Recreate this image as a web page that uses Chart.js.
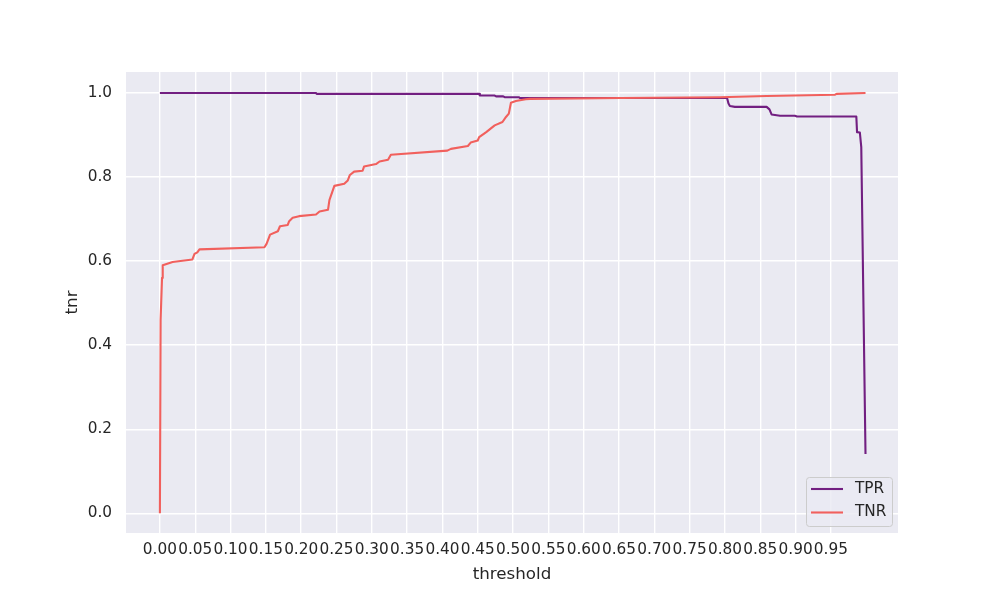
<!DOCTYPE html>
<html>
<head>
<meta charset="utf-8">
<script src="https://cdn.jsdelivr.net/npm/chart.js@4.4.1/dist/chart.umd.min.js"></script>
<style>
  html, body { margin: 0; padding: 0; background: #ffffff; }
  #wrap { width: 1000px; height: 600px; }
</style>
</head>
<body>
<div id="wrap"><canvas id="rateChart" width="1000" height="600"></canvas></div>
<script>
// threshold vs rate
const tprX = [0.000, 0.221, 0.222, 0.452, 0.453, 0.474, 0.476, 0.486, 0.488, 0.508, 0.510, 0.803, 0.805, 0.807, 0.814, 0.859, 0.863, 0.866, 0.878, 0.899, 0.902, 0.986, 0.987, 0.991, 0.993, 0.999];
const tprY = [1.000, 1.000, 0.998, 0.998, 0.994, 0.994, 0.992, 0.992, 0.990, 0.990, 0.988, 0.988, 0.975, 0.969, 0.967, 0.967, 0.961, 0.949, 0.946, 0.946, 0.944, 0.944, 0.907, 0.906, 0.871, 0.141];

const tnrX = [0.000, 0.001, 0.003, 0.004, 0.018, 0.046, 0.049, 0.053, 0.056, 0.148, 0.151, 0.156, 0.167, 0.170, 0.181, 0.183, 0.188, 0.197, 0.221, 0.226, 0.238, 0.240, 0.247, 0.261, 0.266, 0.269, 0.275, 0.287, 0.289, 0.306, 0.311, 0.323, 0.327, 0.407, 0.412, 0.436, 0.440, 0.450, 0.452, 0.462, 0.474, 0.485, 0.490, 0.494, 0.497, 0.504, 0.518, 0.524, 0.652, 0.793, 0.859, 0.956, 0.958, 0.999];
const tnrY = [0.000, 0.460, 0.560, 0.590, 0.598, 0.604, 0.617, 0.621, 0.628, 0.633, 0.641, 0.663, 0.671, 0.683, 0.686, 0.695, 0.703, 0.707, 0.711, 0.718, 0.722, 0.745, 0.779, 0.784, 0.792, 0.805, 0.813, 0.815, 0.825, 0.831, 0.837, 0.841, 0.853, 0.863, 0.867, 0.874, 0.882, 0.887, 0.895, 0.907, 0.923, 0.931, 0.943, 0.951, 0.977, 0.981, 0.985, 0.986, 0.988, 0.990, 0.993, 0.996, 0.998, 1.000];

const xTicks = [0.00, 0.05, 0.10, 0.15, 0.20, 0.25, 0.30, 0.35, 0.40, 0.45, 0.50, 0.55, 0.60, 0.65, 0.70, 0.75, 0.80, 0.85, 0.90, 0.95];
const yTicks = [0.0, 0.2, 0.4, 0.6, 0.8, 1.0];

const seriesNames = ['TPR', 'TNR'];
const seriesColors = ['#721f81', '#f1605d'];
const xTitle = 'threshold';
const yTitle = 'tnr';

const toPoints = (xs, ys) => xs.map((x, i) => ({ x: x, y: ys[i] }));

const FONT = "'DejaVu Sans', sans-serif";
const TEXT = '#262626';

// grey seaborn-like plot background
const plotBg = {
    id: 'plotBg',
    beforeDraw(chart) {
        const { ctx, chartArea: a } = chart;
        ctx.save();
        ctx.fillStyle = '#eaeaf2';
        ctx.fillRect(a.left, a.top, a.right - a.left, a.bottom - a.top);
        ctx.restore();
    }
};

// axis titles placed like matplotlib does them
const axisTitles = {
    id: 'axisTitles',
    afterDraw(chart) {
        const { ctx, chartArea: a } = chart;
        ctx.save();
        ctx.fillStyle = TEXT;
        ctx.font = '16.7px ' + FONT;
        ctx.textAlign = 'center';
        ctx.textBaseline = 'middle';
        ctx.fillText(xTitle, (a.left + a.right) / 2, 575);
        ctx.translate(73, (a.top + a.bottom) / 2);
        ctx.rotate(-Math.PI / 2);
        ctx.fillText(yTitle, 0, 0);
        ctx.restore();
    }
};

// legend box in the lower right corner of the axes
const cornerLegend = {
    id: 'cornerLegend',
    afterDraw(chart) {
        const { ctx, chartArea: a } = chart;
        const w = 86, h = 49;
        const x0 = a.right - 6 - w, y0 = a.bottom - 7 - h;
        ctx.save();
        ctx.fillStyle = 'rgba(234,234,242,0.8)';
        ctx.strokeStyle = '#cccccc';
        ctx.lineWidth = 1;
        ctx.beginPath();
        ctx.roundRect(x0 + 0.5, y0 + 0.5, w, h, 3);
        ctx.fill();
        ctx.stroke();
        ctx.font = '15.3px ' + FONT;
        ctx.textBaseline = 'middle';
        seriesNames.forEach((name, i) => {
            const yy = y0 + 12 + i * 23.5;
            ctx.strokeStyle = seriesColors[i];
            ctx.lineWidth = 2.1;
            ctx.beginPath();
            ctx.moveTo(x0 + 5, yy);
            ctx.lineTo(x0 + 37, yy);
            ctx.stroke();
            ctx.fillStyle = TEXT;
            ctx.fillText(name, x0 + 49, yy);
        });
        ctx.restore();
    }
};

document.addEventListener('DOMContentLoaded', () => {
    const ctx = document.getElementById('rateChart').getContext('2d');
    new Chart(ctx, {
        type: 'scatter',
        data: {
            datasets: [
                {
                    label: seriesNames[0],
                    data: toPoints(tprX, tprY),
                    showLine: true,
                    borderColor: seriesColors[0],
                    backgroundColor: seriesColors[0],
                    borderWidth: 2.1,
                    borderJoinStyle: 'round',
                    pointRadius: 0,
                    tension: 0,
                    order: 1
                },
                {
                    label: seriesNames[1],
                    data: toPoints(tnrX, tnrY),
                    showLine: true,
                    borderColor: seriesColors[1],
                    backgroundColor: seriesColors[1],
                    borderWidth: 2.1,
                    borderJoinStyle: 'round',
                    pointRadius: 0,
                    tension: 0,
                    order: 0
                }
            ]
        },
        options: {
            responsive: false,
            animation: false,
            devicePixelRatio: 1,
            layout: {
                padding: { top: 72, right: 102, bottom: 0, left: 0 }
            },
            scales: {
                x: {
                    type: 'linear',
                    min: -0.048,
                    max: 1.045,
                    afterBuildTicks: (axis) => { axis.ticks = xTicks.map(v => ({ value: v })); },
                    afterFit: (axis) => { axis.height = 67; },
                    border: { display: false },
                    grid: { color: '#ffffff', lineWidth: 1.4, drawTicks: false },
                    ticks: {
                        autoSkip: false,
                        maxRotation: 0,
                        minRotation: 0,
                        padding: 8,
                        color: TEXT,
                        font: { family: FONT, size: 15.3 },
                        callback: (v) => Number(v).toFixed(2)
                    }
                },
                y: {
                    type: 'linear',
                    min: -0.047,
                    max: 1.05,
                    afterBuildTicks: (axis) => { axis.ticks = yTicks.map(v => ({ value: v })); },
                    afterFit: (axis) => { axis.width = 126; },
                    border: { display: false },
                    grid: { color: '#ffffff', lineWidth: 1.4, drawTicks: false },
                    ticks: {
                        padding: 14,
                        color: TEXT,
                        font: { family: FONT, size: 15.3 },
                        callback: (v) => Number(v).toFixed(1)
                    }
                }
            },
            plugins: {
                legend: { display: false },
                tooltip: { enabled: false }
            }
        },
        plugins: [plotBg, axisTitles, cornerLegend]
    });
});
</script>
</body>
</html>
